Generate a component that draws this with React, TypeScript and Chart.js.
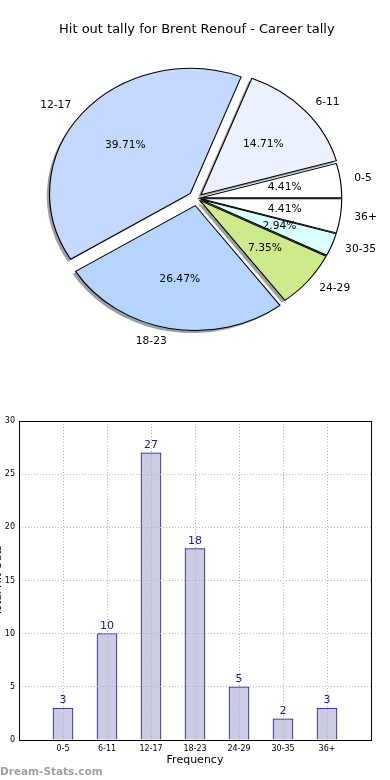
import React, { useEffect, useRef } from 'react';
import { Chart, registerables } from 'chart.js';

Chart.register(...registerables);

const PIE_TITLE = 'Hit out tally for Brent Renouf - Career tally';
const categories = ['0-5', '6-11', '12-17', '18-23', '24-29', '30-35', '36+'];
const tallies = [3, 10, 27, 18, 5, 2, 3];
const sliceColors = ['#ffffff', '#ebf1ff', '#c5d9ff', '#b5d5ff', '#cfea8c', '#d9ffff', '#ffffff'];
const explode = [0.03, 0.04, 0.06, 0.06, 0.03, 0.03, 0.03];
const yTickStep = 5;
const yMax = 30;
const X_TITLE = 'Frequency';
const Y_TITLE = 'Total Hit Outs';
const WATERMARK = 'Dream-Stats.com';

const FONT = "'DejaVu Sans', sans-serif";
const total = tallies.reduce((a, b) => a + b, 0);
const rev = <T,>(a: T[]) => a.slice().reverse();

function shadowOf(hex: string) {
  const n = parseInt(hex.slice(1), 16);
  const r = (n >> 16) & 255, g = (n >> 8) & 255, b = n & 255;
  return `rgba(${Math.round(r * 0.3)},${Math.round(g * 0.3)},${Math.round(b * 0.3)},0.5)`;
}

const ellipsePie = {
  id: 'ellipsePie',
  beforeDatasetsDraw(chart: any, _args: any, opts: any) {
    const ctx = chart.ctx as CanvasRenderingContext2D;
    const arcs = chart.getDatasetMeta(0).data as any[];
    if (!arcs.length) return false;
    const cx = arcs[0].x, cy = arcs[0].y;
    const ex: number[] = opts.explode;
    ctx.save();
    ctx.translate(cx, cy);
    ctx.scale(opts.scaleX, 1);
    ctx.translate(-cx, -cy);
    const shifts = arcs.map((a, i) => {
      const mid = (a.startAngle + a.endAngle) / 2;
      const d = ex[i] * a.outerRadius;
      return [Math.cos(mid) * d, Math.sin(mid) * d];
    });
    arcs.forEach((a, i) => {
      ctx.save();
      ctx.translate(shifts[i][0] + opts.shadowX, shifts[i][1] + opts.shadowY);
      ctx.beginPath();
      ctx.moveTo(a.x, a.y);
      ctx.arc(a.x, a.y, a.outerRadius, a.startAngle, a.endAngle);
      ctx.closePath();
      ctx.fillStyle = shadowOf(a.options.backgroundColor);
      ctx.fill();
      ctx.restore();
    });
    arcs.forEach((a, i) => {
      ctx.save();
      ctx.translate(shifts[i][0], shifts[i][1]);
      a.draw(ctx);
      ctx.restore();
    });
    ctx.restore();
    return false;
  },
  afterDraw(chart: any, _args: any, opts: any) {
    const ctx = chart.ctx as CanvasRenderingContext2D;
    const arcs = chart.getDatasetMeta(0).data as any[];
    if (!arcs.length) return;
    const labels = chart.data.labels as string[];
    const values = chart.data.datasets[0].data as number[];
    const ex: number[] = opts.explode;
    const sx: number = opts.scaleX;
    ctx.save();
    ctx.fillStyle = '#000';
    ctx.font = `10.7px ${FONT}`;
    ctx.textBaseline = 'middle';
    arcs.forEach((a, i) => {
      const cx = a.x, cy = a.y, R = a.outerRadius;
      const mid = (a.startAngle + a.endAngle) / 2;
      const c = Math.cos(mid), s = Math.sin(mid);
      const d = ex[i] * R;
      const pos = (f: number) => [cx + sx * c * (d + R * f), cy + s * (d + R * f)];
      const [lx, ly] = pos(1.1);
      ctx.textAlign = c > 0 ? 'left' : 'right';
      ctx.fillText(labels[i], lx, ly);
      const [px, py] = pos(0.6);
      ctx.textAlign = 'center';
      ctx.fillText(((values[i] / total) * 100).toFixed(2) + '%', px, py);
    });
    ctx.restore();
  },
};

const barDecor = {
  id: 'barDecor',
  afterDraw(chart: any) {
    const ctx = chart.ctx as CanvasRenderingContext2D;
    const { left, top, right, bottom } = chart.chartArea;
    ctx.save();
    ctx.strokeStyle = '#000';
    ctx.lineWidth = 1;
    ctx.strokeRect(Math.round(left) + 0.5, Math.round(top) + 0.5, Math.round(right) - Math.round(left), Math.round(bottom) - Math.round(top));
    const meta = chart.getDatasetMeta(0);
    ctx.fillStyle = '#1a1a8c';
    ctx.font = `11px ${FONT}`;
    ctx.textAlign = 'center';
    ctx.textBaseline = 'bottom';
    meta.data.forEach((el: any, i: number) => {
      ctx.fillText(String(tallies[i]), el.x, el.y - 2);
    });
    ctx.restore();
  },
};

export default function App() {
  const pieRef = useRef<HTMLCanvasElement>(null);
  const barRef = useRef<HTMLCanvasElement>(null);

  useEffect(() => {
    Chart.defaults.font.family = FONT;
    const pie = new Chart(pieRef.current as HTMLCanvasElement, {
      type: 'pie',
      data: {
        labels: rev(categories),
        datasets: [
          {
            data: rev(tallies),
            backgroundColor: rev(sliceColors),
            borderColor: '#000',
            borderWidth: 1,
            borderJoinStyle: 'miter',
          } as any,
        ],
      },
      options: {
        responsive: false,
        animation: false,
        rotation: 90,
        radius: 125,
        layout: { padding: { left: 3.6, right: 0, top: 0, bottom: 38.2 } },
        plugins: {
          legend: { display: false },
          tooltip: { enabled: false },
          title: {
            display: true,
            text: PIE_TITLE,
            color: '#000',
            font: { family: FONT, size: 13, weight: 'normal' },
            padding: { top: 22, bottom: 7 },
          },
          ellipsePie: { scaleX: 1.126, explode: rev(explode), shadowX: -2.5, shadowY: 2.5 },
        } as any,
      },
      plugins: [ellipsePie],
    });

    const bar = new Chart(barRef.current as HTMLCanvasElement, {
      type: 'bar',
      data: {
        datasets: [
          {
            data: tallies.map((v, i) => ({ x: i, y: v })),
            backgroundColor: '#cbcbe4',
            borderColor: '#14148a',
            borderWidth: 1,
            barThickness: 20,
          } as any,
        ],
      },
      options: {
        responsive: false,
        animation: false,
        layout: { padding: { top: 21, right: 19, left: 0, bottom: 0 } },
        plugins: { legend: { display: false }, tooltip: { enabled: false } },
        scales: {
          x: {
            type: 'linear',
            min: -1,
            max: categories.length,
            offset: false,
            grid: { offset: false, color: '#b4b4b4', lineWidth: 1, drawTicks: false, z: 1 },
            border: { display: false, dash: [1, 2] },
            ticks: {
              stepSize: 1,
              autoSkip: false,
              maxRotation: 0,
              padding: 4,
              color: '#000',
              font: { family: FONT, size: 8 },
              callback: (v: any) => (Number.isInteger(v) && categories[v] !== undefined ? categories[v] : ''),
            },
            title: {
              display: true,
              text: X_TITLE,
              color: '#000',
              font: { family: FONT, size: 11 },
              padding: { top: 0, bottom: 13 },
            },
            afterFit: (s: any) => {
              s.height = 40;
            },
          },
          y: {
            min: 0,
            max: yMax,
            grid: { color: '#b4b4b4', lineWidth: 1, drawTicks: false, z: 1 },
            border: { display: false, dash: [1, 2] },
            ticks: {
              stepSize: yTickStep,
              padding: 4,
              color: '#000',
              font: { family: FONT, size: 8 },
            },
            title: {
              display: true,
              text: Y_TITLE,
              color: '#000',
              font: { family: FONT, size: 10.5 },
              padding: { top: 4, bottom: 0 },
            },
            afterFit: (s: any) => {
              s.width = 31;
            },
          },
        } as any,
      },
      plugins: [barDecor],
    });

    return () => {
      pie.destroy();
      bar.destroy();
    };
  }, []);

  return (
    <div
      style={{
        position: 'absolute',
        left: 0,
        top: 0,
        width: 390,
        height: 780,
        overflow: 'hidden',
        background: '#fff',
      }}
    >
      <canvas
        ref={pieRef}
        width={390}
        height={390}
        style={{ position: 'absolute', left: 0, top: 0, width: 390, height: 390 }}
      />
      <canvas
        ref={barRef}
        width={402}
        height={380}
        style={{ position: 'absolute', left: -12, top: 400, width: 402, height: 380 }}
      />
      <div
        style={{
          position: 'absolute',
          left: 0,
          top: 764,
          font: `bold 10.5px ${FONT}`,
          color: '#a0a0a0',
          lineHeight: '14px',
          whiteSpace: 'nowrap',
        }}
      >
        {WATERMARK}
      </div>
    </div>
  );
}
